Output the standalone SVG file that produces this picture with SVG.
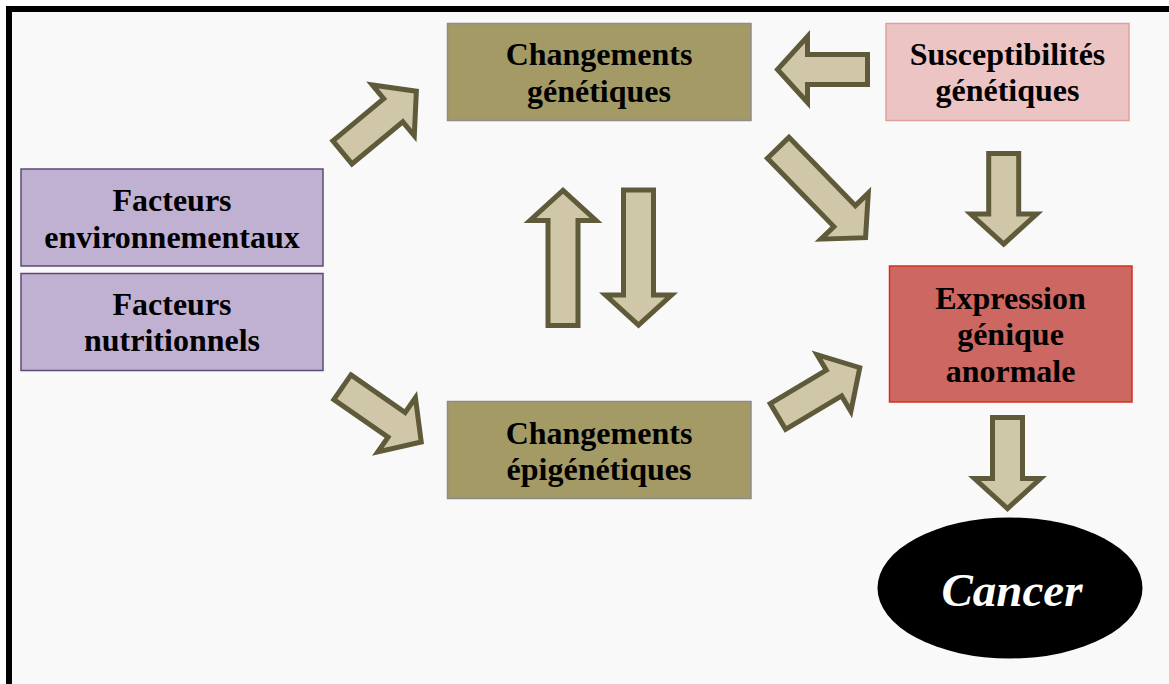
<svg xmlns="http://www.w3.org/2000/svg" width="1169" height="684" viewBox="0 0 1169 684">
<style>
  .lbl { font-family: "Liberation Serif", "Times New Roman", serif; font-weight: bold; font-size: 32px; fill: #000; text-anchor: middle; }
  .gen { fill: #a39a65; stroke: #8c8c8c; stroke-width: 1.5; }
  .fac { fill: #c0b1d3; stroke: #5c4a72; stroke-width: 1.5; }
  .sus { fill: #edc4c4; stroke: #e0a0a0; stroke-width: 1.5; }
  .exp { fill: #cd6762; stroke: #d2301c; stroke-width: 1.5; }
  .arr { fill: #cfc7a8; stroke: #5f5a3a; stroke-width: 5; stroke-linejoin: miter; stroke-miterlimit: 10; }
  .cancer { font-family: "Liberation Serif", "Times New Roman", serif; font-weight: bold; font-style: italic; font-size: 47px; fill: #fff; text-anchor: middle; }
</style>
<rect x="0" y="0" width="1169" height="684" fill="#ffffff"/>
<rect x="9" y="9" width="1200" height="700" fill="#f9f9f9" stroke="#000" stroke-width="6"/>

<g id="connectors">
  <polygon class="arr" transform="translate(342.4,152.4) rotate(-39.6)" points="0,-15 66,-15 66,-33 96,0 66,33 66,15 0,15"/>
  <polygon class="arr" transform="translate(342.4,387.2) rotate(34.8)" points="0,-15 66,-15 66,-33 96,0 66,33 66,15 0,15"/>
  <polygon class="arr" points="548,325.5 548,220.5 530,220.5 563,190.5 596,220.5 578,220.5 578,325.5"/>
  <polygon class="arr" points="623.5,190 653.5,190 653.5,295 671.5,295 638.5,325 605.5,295 623.5,295"/>
  <polygon class="arr" points="867.5,54.5 867.5,84.5 807.5,84.5 807.5,102.5 777.5,69.5 807.5,36.5 807.5,54.5"/>
  <polygon class="arr" transform="translate(778.2,147.8) rotate(45.8)" points="0,-15 95.3,-15 95.3,-33 125.3,0 95.3,33 95.3,15 0,15"/>
  <polygon class="arr" points="988.7,153.5 1018.7,153.5 1018.7,214 1036.7,214 1003.7,244 970.7,214 988.7,214"/>
  <polygon class="arr" transform="translate(777.9,416.5) rotate(-30.8)" points="0,-15 65.3,-15 65.3,-33 95.3,0 65.3,33 65.3,15 0,15"/>
  <polygon class="arr" points="992.5,417.5 1022.5,417.5 1022.5,478.5 1040.5,478.5 1007.5,508.5 974.5,478.5 992.5,478.5"/>
</g>

<g id="changements-genetiques">
  <rect class="gen" x="447.5" y="23.5" width="303.5" height="97"/>
  <text class="lbl" x="599" y="65">Changements</text>
  <text class="lbl" x="599" y="101.5">génétiques</text>
</g>

<g id="changements-epigenetiques">
  <rect class="gen" x="447.5" y="401.5" width="303.5" height="97"/>
  <text class="lbl" x="599" y="443.5">Changements</text>
  <text class="lbl" x="599" y="480">épigénétiques</text>
</g>

<g id="facteurs-environnementaux">
  <rect class="fac" x="21" y="169" width="302" height="97"/>
  <text class="lbl" x="172" y="211">Facteurs</text>
  <text class="lbl" x="172" y="247.5">environnementaux</text>
</g>

<g id="facteurs-nutritionnels">
  <rect class="fac" x="21" y="273.5" width="302" height="97"/>
  <text class="lbl" x="172" y="314.5">Facteurs</text>
  <text class="lbl" x="172" y="351">nutritionnels</text>
</g>

<g id="susceptibilites-genetiques">
  <rect class="sus" x="886" y="23.5" width="243" height="97"/>
  <text class="lbl" x="1007.5" y="65">Susceptibilités</text>
  <text class="lbl" x="1007.5" y="101">génétiques</text>
</g>

<g id="expression-genique">
  <rect class="exp" x="889.5" y="266" width="242.5" height="136"/>
  <text class="lbl" x="1010.5" y="308.5">Expression</text>
  <text class="lbl" x="1010.5" y="345">génique</text>
  <text class="lbl" x="1010.5" y="381.5">anormale</text>
</g>

<g id="cancer">
  <ellipse cx="1010" cy="588" rx="132.5" ry="70.5" fill="#000"/>
  <text class="cancer" x="1012" y="606">Cancer</text>
</g>
</svg>
